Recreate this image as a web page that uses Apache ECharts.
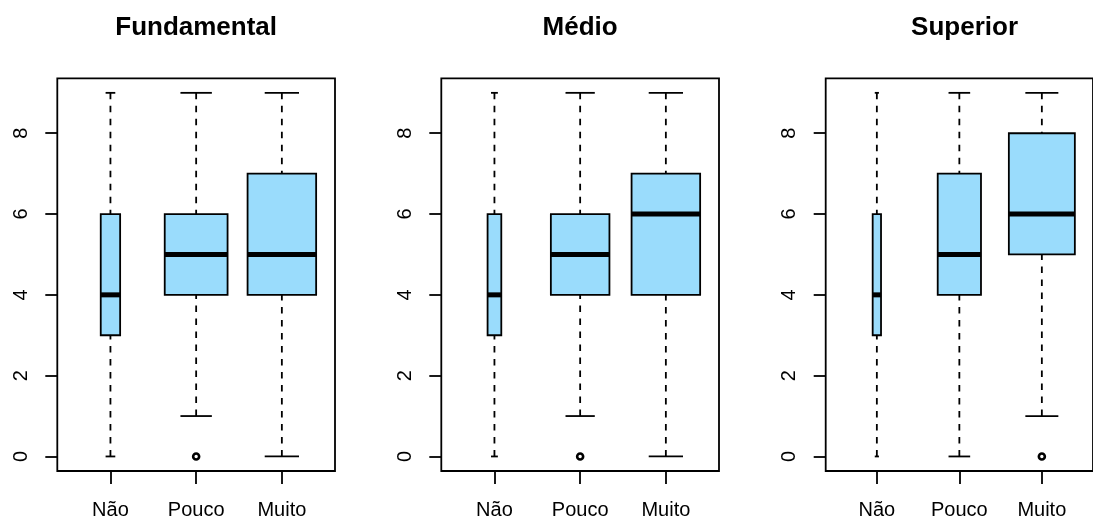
<!DOCTYPE html>
<html>
<head>
<meta charset="utf-8">
<title>Boxplots por escolaridade</title>
<script src="https://cdn.jsdelivr.net/npm/echarts@6/dist/echarts.min.js"></script>
<style>
  html, body { margin: 0; padding: 0; background: #fff; }
  #chart { width: 1093px; height: 520px; }
</style>
</head>
<body>
<div id="chart"></div>
<script>
// Groups on the x axis and the panels (education level)
const categories = ['Não', 'Pouco', 'Muito'];
const panelTitles = ['Fundamental', 'Médio', 'Superior'];
const yTicks = [0, 2, 4, 6, 8];

// Five-number summaries per group: [lower whisker, Q1, median, Q3, upper whisker]
const fundamentalStats = [[0, 3, 4, 6, 9], [1, 4, 5, 6, 9], [0, 4, 5, 7, 9]];
const medioStats       = [[0, 3, 4, 6, 9], [1, 4, 5, 6, 9], [0, 4, 6, 7, 9]];
const superiorStats    = [[0, 3, 4, 6, 9], [0, 4, 5, 7, 9], [1, 5, 6, 8, 9]];

// Relative group sizes (largest group = 100); box width grows with sqrt(n)
const fundamentalSizes = [8, 84, 100];
const medioSizes       = [4, 73, 100];
const superiorSizes    = [1.6, 43, 100];

// Outliers: [group position, value]
const fundamentalOutliers = [[2, 0]];
const medioOutliers       = [[2, 0]];
const superiorOutliers    = [[3, 0]];

const panels = [
  { stats: fundamentalStats, sizes: fundamentalSizes, outliers: fundamentalOutliers },
  { stats: medioStats,       sizes: medioSizes,       outliers: medioOutliers },
  { stats: superiorStats,    sizes: superiorSizes,    outliers: superiorOutliers }
];

const FONT = '"Liberation Sans", Arial, Helvetica, sans-serif';
const BOX_FILL = '#9adcfc';
const LW = 1.8;
const plotLeft = [57.3, 441.3, 825.7];
const plotTop = 78.3, plotW = 277.7, plotH = 394;

// y range padded by 4% like R's default, x range 0.5..3.5 padded the same way
const yMin = -0.36, yMax = 9.36;
const xMin = 0.38, xMax = 3.62;

function boxRows(panel) {
  const maxSqrt = Math.max(...panel.sizes.map(Math.sqrt));
  return panel.stats.map((s, i) => [i + 1, ...s, 0.8 * Math.sqrt(panel.sizes[i]) / maxSqrt]);
}

function renderBox(params, api) {
  const x = api.value(0);
  const lo = api.value(1), q1 = api.value(2), med = api.value(3), q3 = api.value(4), hi = api.value(5);
  const w = api.value(6);
  const pLo = api.coord([x, lo]), pQ1 = api.coord([x, q1]), pMed = api.coord([x, med]);
  const pQ3 = api.coord([x, q3]), pHi = api.coord([x, hi]);
  const xl = api.coord([x - w / 2, 0])[0], xr = api.coord([x + w / 2, 0])[0];
  const cl = api.coord([x - w / 4, 0])[0], cr = api.coord([x + w / 4, 0])[0];
  const cx = pMed[0];
  const dashStyle = { stroke: '#000', lineWidth: LW, lineDash: [6.5, 6.5] };
  const solid = { stroke: '#000', lineWidth: LW };
  return {
    type: 'group',
    children: [
      // whiskers run from the extremes toward the box
      { type: 'line', shape: { x1: cx, y1: pHi[1], x2: cx, y2: pQ3[1] }, style: dashStyle },
      { type: 'line', shape: { x1: cx, y1: pLo[1], x2: cx, y2: pQ1[1] }, style: dashStyle },
      { type: 'line', shape: { x1: cl, y1: pHi[1], x2: cr, y2: pHi[1] }, style: solid },
      { type: 'line', shape: { x1: cl, y1: pLo[1], x2: cr, y2: pLo[1] }, style: solid },
      { type: 'rect', shape: { x: xl, y: pQ3[1], width: xr - xl, height: pQ1[1] - pQ3[1] },
        style: { fill: BOX_FILL, stroke: '#000', lineWidth: LW } },
      { type: 'line', shape: { x1: xl, y1: pMed[1], x2: xr, y2: pMed[1] },
        style: { stroke: '#000', lineWidth: 5 } }
    ]
  };
}

const grids = [], xAxes = [], yAxes = [], series = [], titles = [];
panels.forEach((panel, i) => {
  grids.push({
    left: plotLeft[i], top: plotTop, width: plotW, height: plotH,
    show: true, borderColor: '#000', borderWidth: LW, backgroundColor: 'transparent'
  });
  xAxes.push({
    type: 'value', gridIndex: i, min: xMin, max: xMax, position: 'bottom',
    splitLine: { show: false },
    axisLine: { show: false, onZero: false },
    axisTick: { show: true, customValues: [1, 2, 3], length: 13, inside: false,
      lineStyle: { color: '#000', width: LW } },
    axisLabel: { show: true, customValues: [1, 2, 3], margin: 29,
      formatter: v => categories[Math.round(v) - 1] || '',
      color: '#000', fontSize: 20, fontFamily: FONT }
  });
  yAxes.push({
    type: 'value', gridIndex: i, min: yMin, max: yMax, position: 'left',
    splitLine: { show: false },
    axisLine: { show: false, onZero: false },
    axisTick: { show: true, customValues: yTicks, length: 12, inside: false,
      lineStyle: { color: '#000', width: LW } },
    axisLabel: { show: true, customValues: yTicks, rotate: 90, margin: 26,
      color: '#000', fontSize: 20, fontFamily: FONT }
  });
  series.push({
    type: 'custom', xAxisIndex: i, yAxisIndex: i,
    renderItem: renderBox,
    encode: { x: 0, y: [1, 2, 3, 4, 5] },
    data: boxRows(panel),
    clip: false, silent: true
  });
  series.push({
    type: 'scatter', xAxisIndex: i, yAxisIndex: i,
    data: panel.outliers,
    symbol: 'circle', symbolSize: 6,
    itemStyle: { color: '#fff', borderColor: '#000', borderWidth: 2.6, opacity: 1 },
    silent: true, z: 5
  });
  titles.push({
    text: panelTitles[i],
    left: plotLeft[i] + plotW * (2 - xMin) / (xMax - xMin),
    top: 15,
    padding: 0,
    textAlign: 'center',
    textStyle: { fontSize: 26, fontWeight: 'bold', color: '#000', fontFamily: FONT }
  });
});

const chart = echarts.init(document.getElementById('chart'), null, { renderer: 'canvas' });
chart.setOption({
  animation: false,
  backgroundColor: '#fff',
  title: titles,
  grid: grids,
  xAxis: xAxes,
  yAxis: yAxes,
  series: series
});
</script>
</body>
</html>
